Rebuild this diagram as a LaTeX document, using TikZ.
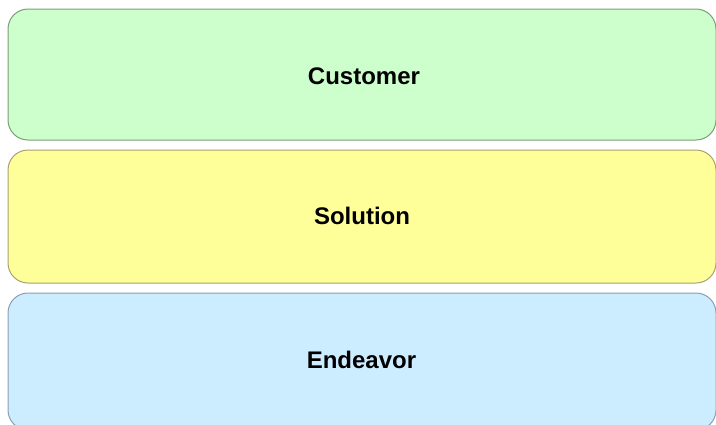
\documentclass[tikz,border=0pt]{standalone}
\usepackage{fontspec}
\setmainfont{Liberation Sans}
\usepackage{tikz}
\definecolor{custfill}{HTML}{CCFFCC}
\definecolor{custline}{HTML}{7A9E7A}
\definecolor{solfill}{HTML}{FFFF99}
\definecolor{solline}{HTML}{A8A070}
\definecolor{endfill}{HTML}{CCECFF}
\definecolor{endline}{HTML}{8A9EB4}
\tikzset{layer/.style={draw, rounded corners=20pt, line width=1pt, inner sep=0pt,
  minimum width=708pt},
  layertext/.style={anchor=base, inner sep=0pt, font=\bfseries\fontsize{24pt}{28pt}\selectfont}}

\begin{document}
\begin{tikzpicture}[x=1pt,y=-1pt]
	\useasboundingbox (0,0) rectangle (716,424);
	\node[layer, fill=custfill, draw=custline, minimum height=131pt] (customer) at (362,74.5) {};
	\node[layer, fill=solfill, draw=solline, minimum height=133pt] (solution) at (362,216.5) {};
	\node[layer, fill=endfill, draw=endline, minimum height=137pt] (endeavor) at (362,361.5) {};
	\node[layertext] (custtext) at (364,84) {Customer};
	\node[layertext] (soltext) at (362,224) {Solution};
	\node[layertext] (endtext) at (361.5,368) {Endeavor};
\end{tikzpicture}
\end{document}
